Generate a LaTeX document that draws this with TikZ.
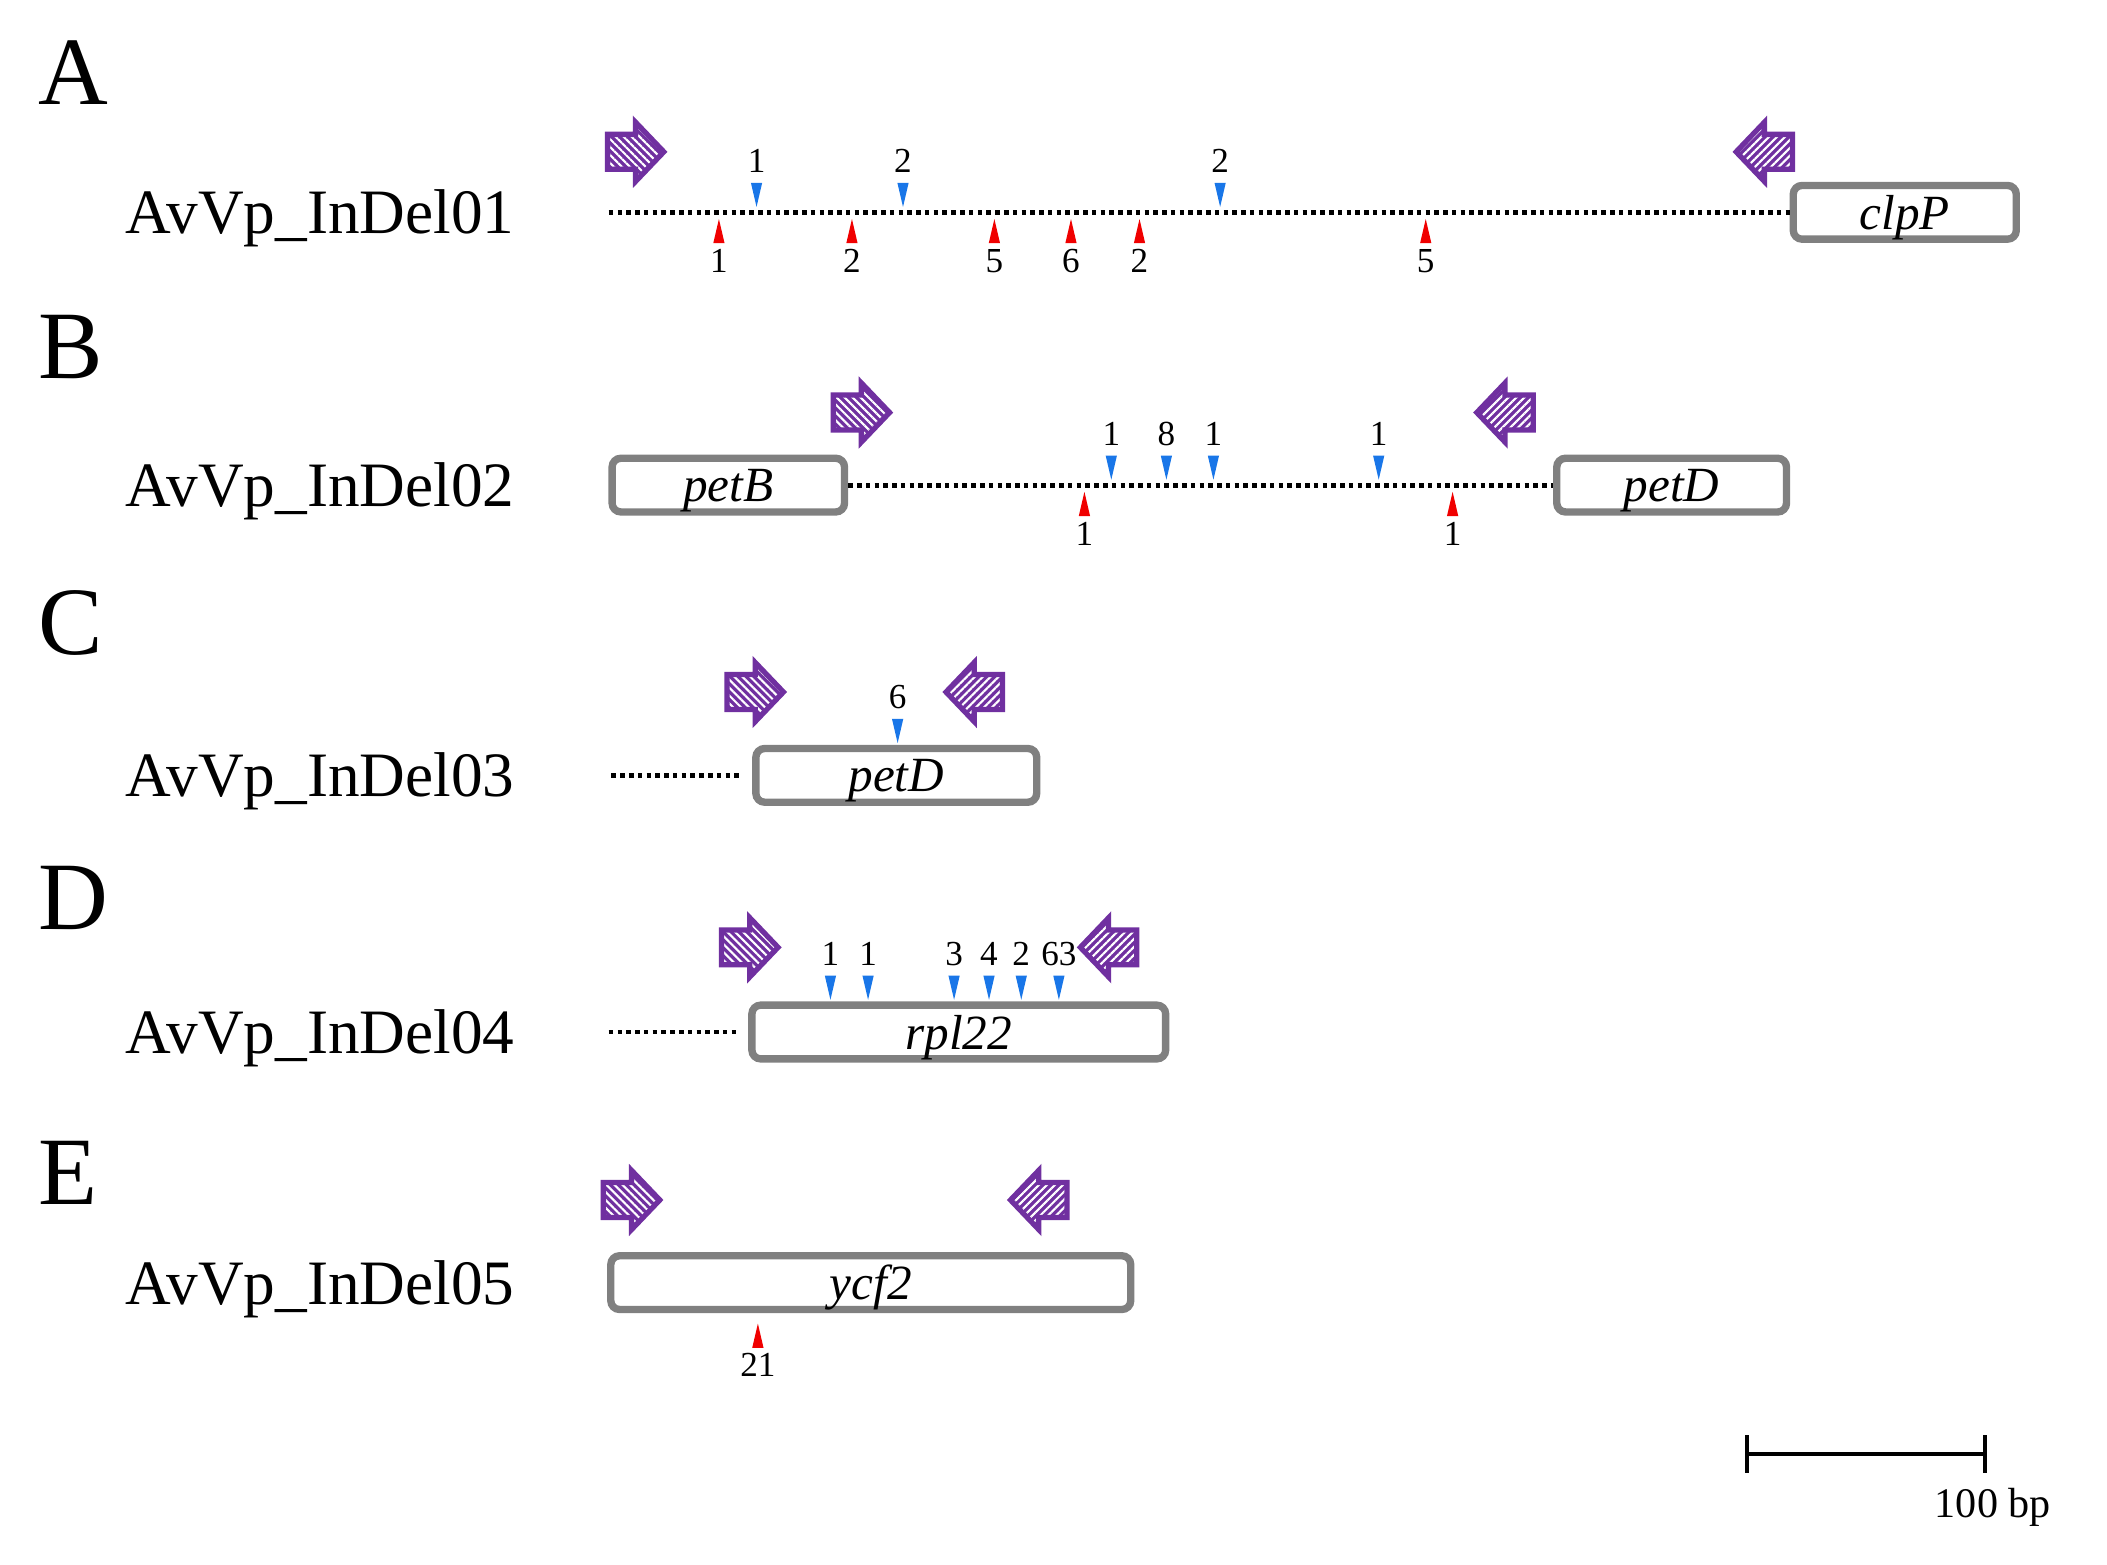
\documentclass[tikz,border=0pt]{standalone}
\usepackage{fontspec}
\setmainfont{Liberation Serif}
\usetikzlibrary{patterns.meta}
\definecolor{primerpurple}{RGB}{112,48,160}
\definecolor{boxgray}{RGB}{128,128,128}
\definecolor{insblue}{RGB}{25,118,232}
\definecolor{delred}{RGB}{240,0,0}

\begin{document}
\begin{tikzpicture}[x=0.013438cm, y=-0.013438cm,
	gene/.style={draw=boxgray, line width=2.1pt, rounded corners=2.5pt, minimum height=0.5375cm, inner sep=0pt, text depth=0pt, font=\fontsize{14}{16}\selectfont\itshape},
	spacer/.style={line width=1.4pt, dash pattern=on 1.3pt off 1.2pt},
	ins/.style={fill=insblue},
	del/.style={fill=delred},
	num/.style={inner sep=0pt, font=\fontsize{10}{12}\selectfont},
	panel/.style={anchor=base west, inner sep=0pt, font=\fontsize{27.5}{30}\selectfont},
	marker/.style={anchor=base west, inner sep=0pt, font=\fontsize{18}{20}\selectfont},
	primer arrow/.style={draw=primerpurple, line width=1.5pt, preaction={fill=primerpurple}, pattern color=white},
	bar/.style={line width=1.15pt}]
	\useasboundingbox (0,0) rectangle (1568,1164);
	\node[panel] (pA) at (28,78) {A};
	\node[panel] (pB) at (28,282) {B};
	\node[panel] (pC) at (28,487) {C};
	\node[panel] (pD) at (28,692) {D};
	\node[panel] (pE) at (28,896) {E};
	\node[marker] (m1) at (93,174) {AvVp\_InDel01};
	\node[marker] (m2) at (93,377) {AvVp\_InDel02};
	\node[marker] (m3) at (93,593) {AvVp\_InDel03};
	\node[marker] (m4) at (93,784) {AvVp\_InDel04};
	\node[marker] (m5) at (93,971) {AvVp\_InDel05};
	\coordinate (a0) at (453,158);
	\node[gene, minimum width=2.231cm] (clpP) at (1417.5,158) {clpP};
	\draw[spacer] (a0) -- (clpP);
	\node[gene, minimum width=2.325cm] (petB) at (542,361) {petB};
	\node[gene, minimum width=2.298cm] (petD2) at (1244,361) {petD};
	\draw[spacer] (petB) -- (petD2);
	\coordinate (c0) at (455,577);
	\node[gene, minimum width=2.809cm] (petD3) at (667,577) {petD};
	\draw[spacer, shorten >=0.12cm] (c0) -- (petD3);
	\coordinate (d0) at (453,768);
	\node[gene, minimum width=4.139cm] (rpl22) at (713.5,768) {rpl22};
	\draw[spacer, shorten >=0.12cm] (d0) -- (rpl22);
	\node[gene, minimum width=5.201cm] (ycf2) at (648,954.5) {ycf2};
	\foreach \cx/\cy/\d/\a in {473/113/1/-45, 1313/113/-1/45, 641/307/1/-45, 1120/307/-1/45, 562/515/1/-45, 725/515/-1/45, 558/705/1/-45, 825/705/-1/45, 470/893/1/-45, 773/893/-1/45}
		\draw[primer arrow, pattern={Lines[angle=\a, distance=1.6pt, line width=0.6pt]}] (\cx-21*\d,\cy-13) -- ++(21*\d,0) -- ++(0,-9) -- ++(21*\d,22) -- ++(-21*\d,22) -- ++(0,-9) -- ++(-21*\d,0) -- cycle;
	\foreach \x/\y/\n [count=\i] in {563/154/1, 672/154/2, 908/154/2, 827/357/1, 868/357/8, 903/357/1, 1026/357/1, 668/553/6, 618/744/1, 646/744/1, 710/744/3, 736/744/4, 760/744/2, 788/744/63}{
		\fill[ins] (\x,\y) -- ++(-4.2,-18) -- ++(8.4,0) -- cycle;
		\node[num] (ins\i) at (\x,\y-34) {\n};
	}
	\foreach \x/\y/\n [count=\i] in {535/163/1, 634/163/2, 740/163/5, 797/163/6, 848/163/2, 1061/163/5, 807/366/1, 1081/366/1, 564/985/21}{
		\fill[del] (\x,\y) -- ++(-4.2,18) -- ++(8.4,0) -- cycle;
		\node[num] (del\i) at (\x,\y+31) {\n};
	}
	\coordinate (sb0) at (1300,1082);
	\coordinate (sb1) at (1477,1082);
	\draw[bar] (sb0) -- (sb1) (1300,1068) -- (1300,1096) (1477,1068) -- (1477,1096);
	\node[font=\fontsize{12}{14}\selectfont, inner sep=0pt] (sbl) at (1483,1122) {100 bp};
\end{tikzpicture}
\end{document}
